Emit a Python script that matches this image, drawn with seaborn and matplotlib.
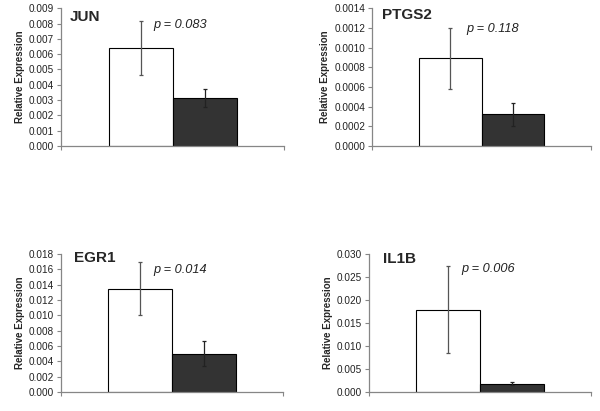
import matplotlib
matplotlib.use("Agg")
import matplotlib.pyplot as plt
import seaborn as sns
import pandas as pd
from matplotlib.ticker import FormatStrFormatter, MultipleLocator

sns.set_style("white")
plt.rcParams['font.family'] = ['Liberation Sans', 'DejaVu Sans']

genes = ["JUN", "PTGS2", "EGR1", "IL1B"]
groups = ["Group 1", "Group 2"]
means = {
    "JUN":   [0.0064, 0.00315],
    "PTGS2": [0.00089, 0.00032],
    "EGR1":  [0.0135, 0.0050],
    "IL1B":  [0.0179, 0.0018],
}
errors = {
    "JUN":   [0.00175, 0.0006],
    "PTGS2": [0.00031, 0.00012],
    "EGR1":  [0.0034, 0.0016],
    "IL1B":  [0.0094, 0.00035],
}
pvals = ["p = 0.083", "p = 0.118", "p = 0.014", "p = 0.006"]
ymax = [0.009, 0.0014, 0.018, 0.030]
ystep = [0.001, 0.0002, 0.002, 0.005]
yfmt = ["%.3f", "%.4f", "%.3f", "%.3f"]

# layout (figure fractions)
axes_rects = [
    [0.1017, 0.645, 0.372, 0.335],
    [0.620, 0.645, 0.365, 0.335],
    [0.1017, 0.046, 0.370, 0.336],
    [0.615, 0.046, 0.370, 0.336],
]
title_pos = [(0.04, 0.935), (0.045, 0.95), (0.06, 0.97), (0.063, 0.965)]
p_pos = [(0.534, 0.877), (0.553, 0.848), (0.536, 0.884), (0.536, 0.891)]
spine_col = "#868686"

fig = plt.figure(figsize=(6.0, 4.11), dpi=100)
for i, g in enumerate(genes):
    ax = fig.add_axes(axes_rects[i])
    df = pd.DataFrame({"gene": [g, g], "group": groups, "value": means[g]})
    sns.barplot(data=df, x="gene", y="value", hue="group", ax=ax,
                palette=["white", "#333333"], edgecolor="black", linewidth=0.8,
                width=0.574, errorbar=None, legend=False, saturation=1)
    bars = [p for p in ax.patches if p.get_height() > 0]
    bars = sorted(bars, key=lambda p: p.get_x())
    for j, p in enumerate(bars):
        cx = p.get_x() + p.get_width() / 2
        ax.errorbar(cx, means[g][j], yerr=errors[g][j], fmt="none",
                    ecolor="#555555" if j == 0 else "#222222",
                    elinewidth=0.9, capsize=1.7, capthick=0.9, zorder=5)
    ax.set_xlim(-0.5, 0.5)
    ax.set_ylim(0, ymax[i])
    ax.yaxis.set_major_locator(MultipleLocator(ystep[i]))
    ax.yaxis.set_major_formatter(FormatStrFormatter(yfmt[i]))
    ax.set_xticks([-0.5, 0.5])
    ax.set_xticklabels([])
    ax.set_xlabel("")
    ax.set_ylabel("Relative Expression", fontsize=7, fontweight="bold", labelpad=3)
    for s in ["top", "right"]:
        ax.spines[s].set_visible(False)
    for s in ["left", "bottom"]:
        ax.spines[s].set_color(spine_col)
        ax.spines[s].set_linewidth(0.9)
    ax.tick_params(axis="both", which="major", direction="out", length=3,
                   width=0.8, color=spine_col, labelsize=7.2, labelcolor="#222222",
                   left=True, bottom=True, pad=2)
    ax.text(title_pos[i][0], title_pos[i][1], g, transform=ax.transAxes,
            fontsize=11, fontweight="bold", ha="left", va="center")
    ax.text(p_pos[i][0], p_pos[i][1], pvals[i], transform=ax.transAxes,
            fontsize=9.2, style="italic", ha="center", va="center", color="#222222")

fig.savefig("out.png", dpi=100)
